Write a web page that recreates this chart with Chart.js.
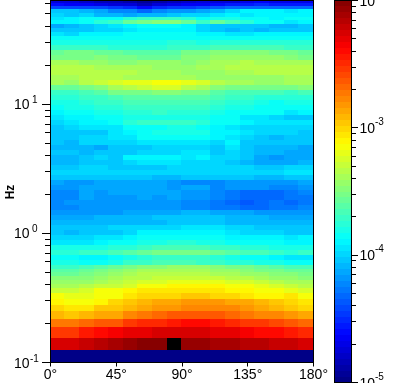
<!DOCTYPE html>
<html>
<head>
  <title>Hz angle spectrum</title>
  <script src="https://cdn.jsdelivr.net/npm/chart.js@4"></script>
  <style>
    body { margin: 0; padding: 0; background: #fff; overflow: hidden; }
    canvas { position: absolute; left: 0; top: 0; }
  </style>
</head>
<body>
  <canvas id="spectrum" width="418" height="383"></canvas>
  <canvas id="colorbar" width="418" height="383"></canvas>

  <script>
    // angle bin edges (degrees)
    const angleEdges = [0, 9.5, 19.5, 29.5, 39.5, 49.5, 59.5, 69.5, 79.5, 89.5, 99.5, 109.5, 119.5, 129.5, 139.5, 149.5, 159.5, 169.5, 180];

    // frequency bin edges (Hz), top row first
    const freqEdges = [63.4, 60.6, 57.4, 54.5, 50.7, 47.2, 44.8, 41.7, 38.8, 36.1, 33.7, 31.3, 28.7, 26.2, 24.0, 21.9,
      20.1, 18.4, 16.8, 15.4, 14.05, 12.85, 11.76, 10.76, 9.84, 9.0, 8.23, 7.53, 6.89, 6.30, 5.77, 5.27, 4.82, 4.41,
      4.04, 3.69, 3.38, 3.09, 2.83, 2.58, 2.37, 2.16, 1.98, 1.81, 1.66, 1.51, 1.39, 1.27, 1.16, 1.06, 0.97, 0.887,
      0.812, 0.742, 0.679, 0.621, 0.568, 0.529, 0.5, 0.469, 0.4375, 0.406, 0.375, 0.344, 0.3125, 0.281, 0.25, 0.219,
      0.1875, 0.156, 0.125, 0.1];

    // colour level of each cell (0-63 on the log colour bar, 64 = off the scale), one line per frequency row
    const levelRows = [
      [5,5,4,3,3,2,1,2,3,4,5,5,5,6,7,6,6,6],
      [8,7,7,6,5,5,3,5,6,7,7,8,9,9,10,9,9,9],
      [12,12,12,12,11,10,8,10,11,11,12,13,14,14,14,14,14,14],
      [20,20,19,18,16,16,14,16,17,17,18,19,21,23,23,23,22,23],
      [21,20,21,19,19,18,19,19,20,21,21,22,23,22,23,23,23,23],
      [22,23,24,24,24,26,27,27,27,26,24,25,25,24,24,23,24,24],
      [23,23,24,26,27,30,31,32,32,30,27,30,28,26,24,24,22,23],
      [18,19,20,21,22,23,24,24,24,23,21,20,20,20,20,19,19,20],
      [20,20,20,21,21,22,23,23,23,23,21,20,19,20,19,20,20,20],
      [22,21,23,23,23,24,24,24,24,24,23,23,22,22,23,23,23,23],
      [24,24,24,24,24,24,24,24,24,24,24,24,24,24,24,24,24,24],
      [25,25,25,25,25,25,25,25,26,26,25,26,26,26,26,26,26,26],
      [27,27,27,27,26,26,26,26,27,27,27,28,28,28,28,28,27,27],
      [30,31,31,30,30,29,29,29,29,31,31,32,32,32,32,31,31,30],
      [31,31,31,32,31,31,30,30,30,32,32,33,33,33,33,33,32,31],
      [34,34,33,33,32,32,33,33,33,32,33,34,34,35,34,34,34,34],
      [35,35,35,34,34,34,34,33,33,33,34,34,35,35,35,35,35,35],
      [35,35,35,35,35,35,34,34,34,33,33,33,34,34,35,35,35,35],
      [34,34,35,35,35,34,34,34,34,34,33,33,33,33,33,33,34,34],
      [34,33,35,36,37,38,38,39,39,38,37,35,34,34,33,33,34,34],
      [30,30,31,32,34,35,36,37,37,35,34,32,31,31,31,31,31,32],
      [27,27,28,29,31,31,31,32,32,31,31,29,28,28,28,28,27,28],
      [26,26,27,27,28,29,29,29,29,29,29,28,27,27,26,26,26,26],
      [25,25,26,27,27,28,28,28,28,28,28,27,26,26,25,24,25,25],
      [24,25,25,26,26,27,27,27,27,27,27,26,25,25,24,24,24,24],
      [23,24,24,25,25,26,26,27,26,26,26,25,24,24,24,24,22,23],
      [22,23,23,24,24,25,25,25,25,25,25,24,24,22,22,21,20,20],
      [21,22,23,23,24,26,27,27,27,27,26,24,24,23,22,22,22,22],
      [20,21,22,22,22,24,24,24,25,25,24,23,22,21,21,21,21,21],
      [20,20,20,20,22,23,24,25,25,25,25,23,23,22,21,21,21,20],
      [20,20,21,21,22,22,24,24,24,24,24,23,22,21,20,19,20,20],
      [20,19,21,21,21,21,22,22,22,22,22,21,23,20,20,20,20,20],
      [19,19,19,18,20,20,20,21,21,21,21,20,22,20,19,19,19,18],
      [20,20,19,20,20,20,21,21,21,22,22,20,21,20,19,19,18,18],
      [19,19,20,21,20,23,23,23,23,22,23,21,21,20,18,17,18,18],
      [19,19,20,20,20,21,22,22,22,21,21,21,20,19,18,18,18,19],
      [20,20,21,21,20,20,20,20,21,21,21,21,21,21,20,20,21,21],
      [21,21,21,21,21,21,21,21,21,21,21,21,21,21,21,21,22,22],
      [20,20,20,20,20,20,20,19,19,20,20,20,20,20,19,19,20,20],
      [18,17,17,18,18,18,18,18,17,16,16,16,17,17,17,17,17,18],
      [17,17,18,18,18,18,18,18,17,18,18,16,17,17,17,16,16,17],
      [16,16,18,17,18,18,18,18,18,17,17,16,15,14,14,14,15,16],
      [16,16,18,17,17,17,18,17,18,17,17,16,15,14,14,14,15,15],
      [16,17,17,17,17,17,17,17,17,16,16,15,14,13,14,15,14,15],
      [16,16,17,17,17,17,17,17,17,16,16,15,15,14,14,15,15,16],
      [17,17,17,17,17,18,18,18,18,19,19,18,18,18,17,17,17,17],
      [18,18,18,19,19,19,19,20,20,20,20,20,19,19,19,18,18,18],
      [19,19,19,19,19,19,19,19,20,20,20,20,19,19,19,19,19,19],
      [20,20,20,20,21,21,21,21,21,22,22,22,21,21,20,20,20,20],
      [20,19,20,20,20,21,23,23,23,23,23,23,22,21,21,21,20,20],
      [21,21,21,22,22,23,24,24,24,24,24,24,23,23,23,23,22,23],
      [22,22,22,23,24,24,25,25,26,26,25,25,24,24,24,24,23,23],
      [25,25,25,25,26,26,27,28,28,28,28,27,27,26,26,25,25,25],
      [26,26,27,27,28,29,30,31,31,31,31,30,29,28,28,27,26,27],
      [24,24,23,23,24,25,26,27,27,27,27,26,25,24,24,23,22,22],
      [25,25,24,24,25,27,27,28,28,28,27,27,26,26,25,25,24,24],
      [27,27,28,29,30,31,32,32,33,33,33,32,31,31,30,29,28,28],
      [29,29,30,31,32,33,34,34,34,34,34,33,33,32,31,31,30,30],
      [30,30,31,32,33,34,35,35,35,35,35,34,34,33,33,32,32,31],
      [32,32,32,33,34,35,35,36,36,36,36,36,35,35,34,33,33,32],
      [33,33,33,34,35,36,37,37,38,38,38,38,37,37,36,35,34,34],
      [34,34,35,36,36,37,39,39,40,40,40,40,39,39,38,37,36,35],
      [36,36,37,39,39,40,41,41,41,41,41,41,40,40,39,39,38,37],
      [39,38,38,39,39,41,42,42,42,43,43,42,42,41,40,40,41,39],
      [40,39,39,40,42,43,44,45,45,46,46,46,45,45,44,43,42,41],
      [42,41,41,43,43,44,45,46,46,47,47,47,47,46,45,44,43,42],
      [44,43,44,45,45,47,48,49,50,50,50,50,49,48,47,47,46,45],
      [48,48,49,50,50,52,53,53,54,55,55,54,53,52,52,51,50,49],
      [52,52,54,55,56,57,57,58,58,58,58,57,57,56,55,55,54,53],
      [58,58,59,60,61,62,63,63,64,62,62,61,61,60,60,59,59,58],
      [0,0,0,0,0,0,0,0,0,0,0,0,0,0,0,0,0,0]
    ];

    const xTickValues = [0, 45, 90, 135, 180];
    const yMajorExps = [-1, 0, 1];
    const yMinorHz = [0.2, 0.3, 0.4, 0.5, 0.6, 0.7, 0.8, 0.9, 2, 3, 4, 5, 6, 7, 8, 9, 20, 30, 40, 50, 60];
    const barExps = [-5, -4, -3, -2];
    const barMinor = [2e-5, 3e-5, 4e-5, 5e-5, 6e-5, 7e-5, 8e-5, 9e-5, 2e-4, 3e-4, 4e-4, 5e-4, 6e-4, 7e-4, 8e-4, 9e-4,
      2e-3, 3e-3, 4e-3, 5e-3, 6e-3, 7e-3, 8e-3, 9e-3];

    const FONT = '"Liberation Sans", Arial, sans-serif';

    // 64 step jet map
    function jet(level) {
      if (level > 63) return '#000';
      const v = (level + 0.5) / 64 * 4;
      const ch = (c) => Math.round(255 * Math.max(0, Math.min(1, Math.min(v - c + 1.5, c + 1.5 - v))));
      return 'rgb(' + ch(3) + ',' + ch(2) + ',' + ch(1) + ')';
    }

    // cells are kept as dataset points, the plugin fills them out to their bin edges
    const heatPlugin = {
      id: 'heat',
      beforeDatasetsDraw(chart) {
        const ctx = chart.ctx;
        const xs = chart.scales.x;
        const ys = chart.scales.y;
        chart.data.datasets[0].data.forEach((c) => {
          const l = Math.round(xs.getPixelForValue(c.x0));
          const r = Math.round(xs.getPixelForValue(c.x1));
          const t = Math.round(ys.getPixelForValue(c.y1));
          const b = Math.round(ys.getPixelForValue(c.y0));
          ctx.fillStyle = jet(c.level);
          ctx.fillRect(l, t, r - l, b - t);
        });
      }
    };

    function drawPower(ctx, x, y, exp, lift, expX) {
      ctx.fillStyle = '#000';
      ctx.textAlign = 'left';
      ctx.textBaseline = 'alphabetic';
      ctx.font = '14px ' + FONT;
      ctx.fillText('10', x, y + 5);
      ctx.font = '10px ' + FONT;
      ctx.fillText(String(exp), exp < 0 ? expX : expX + 2, y + 5 - lift);
    }

    function hLine(ctx, x0, x1, y) {
      ctx.fillRect(x0, Math.floor(y), x1 - x0, 1);
    }

    const axisPlugin = {
      id: 'axisMarks',
      afterDraw(chart) {
        const ctx = chart.ctx;
        const a = chart.chartArea;
        const ys = chart.scales.y;
        ctx.save();
        ctx.fillStyle = '#000';
        ctx.fillRect(a.left - 0.5, a.top - 0.5, a.right - a.left + 1, 1);
        ctx.fillRect(a.left - 0.5, a.bottom - 0.5, a.right - a.left + 1, 1);
        ctx.fillRect(a.left - 0.5, a.top - 0.5, 1, a.bottom - a.top + 1);
        ctx.fillRect(a.right - 0.5, a.top - 0.5, 1, a.bottom - a.top + 1);
        yMinorHz.forEach((v) => hLine(ctx, 45, 50, ys.getPixelForValue(v)));
        yMajorExps.forEach((e) => {
          const y = ys.getPixelForValue(Math.pow(10, e));
          ctx.fillStyle = '#000';
          hLine(ctx, 42, 50, y);
          drawPower(ctx, 14, y, e, 6, 30);
        });
        ctx.translate(13.5, 192);
        ctx.rotate(-Math.PI / 2);
        ctx.fillStyle = '#000';
        ctx.font = 'bold 12px ' + FONT;
        ctx.textAlign = 'center';
        ctx.textBaseline = 'alphabetic';
        ctx.fillText('Hz', 0, 0);
        ctx.restore();
      }
    };

    const cells = [];
    levelRows.forEach((row, i) => {
      row.forEach((level, j) => {
        cells.push({
          x: (angleEdges[j] + angleEdges[j + 1]) / 2,
          y: Math.sqrt(Math.max(freqEdges[i], 0.1) * Math.max(freqEdges[i + 1], 0.1)),
          x0: angleEdges[j], x1: angleEdges[j + 1],
          y0: freqEdges[i + 1], y1: freqEdges[i],
          level: level
        });
      });
    });

    new Chart(document.getElementById('spectrum'), {
      type: 'scatter',
      data: { datasets: [{ data: cells, pointRadius: 0 }] },
      plugins: [heatPlugin, axisPlugin],
      options: {
        responsive: false,
        animation: false,
        layout: { autoPadding: false, padding: { left: 50.5, right: 104.5, top: 0.5, bottom: 0 } },
        plugins: { legend: { display: false }, tooltip: { enabled: false } },
        scales: {
          x: {
            type: 'linear', min: 0, max: 180,
            afterBuildTicks: (s) => { s.ticks = xTickValues.map((v) => ({ value: v })); },
            afterFit: (s) => { s.height = 20.5; },
            grid: { drawOnChartArea: false, color: '#000', tickLength: 4, lineWidth: 1 },
            border: { display: false },
            ticks: {
              color: '#000', font: { family: 'Liberation Sans', size: 14 }, padding: 0,
              maxRotation: 0, autoSkip: false,
              callback: (v) => v + '°'
            }
          },
          y: { type: 'logarithmic', display: false, min: 0.1, max: 63.4 }
        }
      }
    });

    // colour bar, one step per colour level
    const barSteps = [];
    for (let i = 0; i < 64; i++) {
      barSteps.push({
        x: 0.5, y: Math.pow(10, -5 + (i + 0.5) * 3 / 64),
        x0: 0, x1: 1,
        y0: Math.pow(10, -5 + i * 3 / 64), y1: Math.pow(10, -5 + (i + 1) * 3 / 64),
        level: i
      });
    }

    const barAxisPlugin = {
      id: 'barAxis',
      afterDraw(chart) {
        const ctx = chart.ctx;
        const a = chart.chartArea;
        const ys = chart.scales.y;
        ctx.save();
        ctx.fillStyle = '#000';
        ctx.fillRect(a.left - 0.5, a.top - 0.5, a.right - a.left + 1, 1);
        ctx.fillRect(a.left - 0.5, a.bottom - 0.5, a.right - a.left + 1, 1);
        ctx.fillRect(a.left - 0.5, a.top - 0.5, 1, a.bottom - a.top + 1);
        ctx.fillRect(a.right - 0.5, a.top - 0.5, 1, a.bottom - a.top + 1);
        barMinor.forEach((v) => hLine(ctx, 351, 356, ys.getPixelForValue(v)));
        barExps.forEach((e) => {
          const y = ys.getPixelForValue(Math.pow(10, e));
          ctx.fillStyle = '#000';
          hLine(ctx, 351, 358, y);
          drawPower(ctx, 359.5, y, e, 8, 375);
        });
        ctx.restore();
      }
    };

    new Chart(document.getElementById('colorbar'), {
      type: 'scatter',
      data: { datasets: [{ data: barSteps, pointRadius: 0 }] },
      plugins: [heatPlugin, barAxisPlugin],
      options: {
        responsive: false,
        animation: false,
        layout: { autoPadding: false, padding: { left: 334.5, right: 66.5, top: 0.5, bottom: 0.5 } },
        plugins: { legend: { display: false }, tooltip: { enabled: false } },
        scales: {
          x: { type: 'linear', display: false, min: 0, max: 1 },
          y: { type: 'logarithmic', display: false, min: 1e-5, max: 1e-2 }
        }
      }
    });
  </script>
</body>
</html>
